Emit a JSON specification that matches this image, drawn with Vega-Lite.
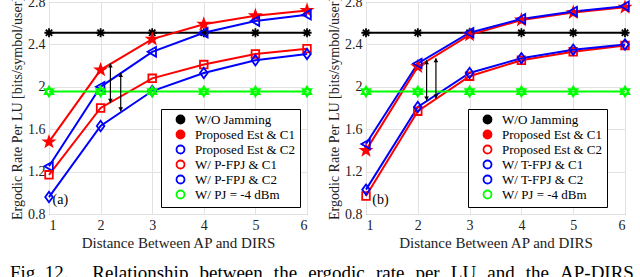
{
  "$schema": "https://vega.github.io/schema/vega-lite/v6.json",
  "padding": {"left": 10, "top": -6, "right": 5, "bottom": 5},
  "datasets": {
    "curves": [
      {"p":"a","s":"W/O Jamming","x":1,"y":2.51},{"p":"a","s":"W/O Jamming","x":2,"y":2.51},{"p":"a","s":"W/O Jamming","x":3,"y":2.51},{"p":"a","s":"W/O Jamming","x":4,"y":2.51},{"p":"a","s":"W/O Jamming","x":5,"y":2.51},{"p":"a","s":"W/O Jamming","x":6,"y":2.51},
      {"p":"a","s":"Proposed Est & C1","x":1,"y":1.48},{"p":"a","s":"Proposed Est & C1","x":2,"y":2.16},{"p":"a","s":"Proposed Est & C1","x":3,"y":2.45},{"p":"a","s":"Proposed Est & C1","x":4,"y":2.59},{"p":"a","s":"Proposed Est & C1","x":5,"y":2.67},{"p":"a","s":"Proposed Est & C1","x":6,"y":2.72},
      {"p":"a","s":"Proposed Est & C2","x":1,"y":1.25},{"p":"a","s":"Proposed Est & C2","x":2,"y":2.0},{"p":"a","s":"Proposed Est & C2","x":3,"y":2.33},{"p":"a","s":"Proposed Est & C2","x":4,"y":2.51},{"p":"a","s":"Proposed Est & C2","x":5,"y":2.62},{"p":"a","s":"Proposed Est & C2","x":6,"y":2.68},
      {"p":"a","s":"W/ P-FPJ & C1","x":1,"y":1.17},{"p":"a","s":"W/ P-FPJ & C1","x":2,"y":1.8},{"p":"a","s":"W/ P-FPJ & C1","x":3,"y":2.08},{"p":"a","s":"W/ P-FPJ & C1","x":4,"y":2.21},{"p":"a","s":"W/ P-FPJ & C1","x":5,"y":2.31},{"p":"a","s":"W/ P-FPJ & C1","x":6,"y":2.36},
      {"p":"a","s":"W/ P-FPJ & C2","x":1,"y":0.96},{"p":"a","s":"W/ P-FPJ & C2","x":2,"y":1.63},{"p":"a","s":"W/ P-FPJ & C2","x":3,"y":1.96},{"p":"a","s":"W/ P-FPJ & C2","x":4,"y":2.13},{"p":"a","s":"W/ P-FPJ & C2","x":5,"y":2.25},{"p":"a","s":"W/ P-FPJ & C2","x":6,"y":2.31},
      {"p":"a","s":"W/ PJ = -4 dBm","x":1,"y":1.955},{"p":"a","s":"W/ PJ = -4 dBm","x":2,"y":1.955},{"p":"a","s":"W/ PJ = -4 dBm","x":3,"y":1.955},{"p":"a","s":"W/ PJ = -4 dBm","x":4,"y":1.955},{"p":"a","s":"W/ PJ = -4 dBm","x":5,"y":1.955},{"p":"a","s":"W/ PJ = -4 dBm","x":6,"y":1.955},
      {"p":"b","s":"W/O Jamming","x":1,"y":2.51},{"p":"b","s":"W/O Jamming","x":2,"y":2.51},{"p":"b","s":"W/O Jamming","x":3,"y":2.51},{"p":"b","s":"W/O Jamming","x":4,"y":2.51},{"p":"b","s":"W/O Jamming","x":5,"y":2.51},{"p":"b","s":"W/O Jamming","x":6,"y":2.51},
      {"p":"b","s":"Proposed Est & C1","x":1,"y":1.4},{"p":"b","s":"Proposed Est & C1","x":2,"y":2.19},{"p":"b","s":"Proposed Est & C1","x":3,"y":2.49},{"p":"b","s":"Proposed Est & C1","x":4,"y":2.63},{"p":"b","s":"Proposed Est & C1","x":5,"y":2.7},{"p":"b","s":"Proposed Est & C1","x":6,"y":2.75},
      {"p":"b","s":"Proposed Est & C2","x":1,"y":0.97},{"p":"b","s":"Proposed Est & C2","x":2,"y":1.77},{"p":"b","s":"Proposed Est & C2","x":3,"y":2.1},{"p":"b","s":"Proposed Est & C2","x":4,"y":2.25},{"p":"b","s":"Proposed Est & C2","x":5,"y":2.33},{"p":"b","s":"Proposed Est & C2","x":6,"y":2.39},
      {"p":"b","s":"W/ T-FPJ & C1","x":1,"y":1.46},{"p":"b","s":"W/ T-FPJ & C1","x":2,"y":2.22},{"p":"b","s":"W/ T-FPJ & C1","x":3,"y":2.51},{"p":"b","s":"W/ T-FPJ & C1","x":4,"y":2.64},{"p":"b","s":"W/ T-FPJ & C1","x":5,"y":2.71},{"p":"b","s":"W/ T-FPJ & C1","x":6,"y":2.76},
      {"p":"b","s":"W/ T-FPJ & C2","x":1,"y":1.03},{"p":"b","s":"W/ T-FPJ & C2","x":2,"y":1.81},{"p":"b","s":"W/ T-FPJ & C2","x":3,"y":2.13},{"p":"b","s":"W/ T-FPJ & C2","x":4,"y":2.27},{"p":"b","s":"W/ T-FPJ & C2","x":5,"y":2.35},{"p":"b","s":"W/ T-FPJ & C2","x":6,"y":2.4},
      {"p":"b","s":"W/ PJ = -4 dBm","x":1,"y":1.955},{"p":"b","s":"W/ PJ = -4 dBm","x":2,"y":1.955},{"p":"b","s":"W/ PJ = -4 dBm","x":3,"y":1.955},{"p":"b","s":"W/ PJ = -4 dBm","x":4,"y":1.955},{"p":"b","s":"W/ PJ = -4 dBm","x":5,"y":1.955},{"p":"b","s":"W/ PJ = -4 dBm","x":6,"y":1.955}
    ],
    "arrows": [
      {"p":"a","x":2.19,"lo":1.85,"hi":2.22},
      {"p":"a","x":2.39,"lo":1.77,"hi":2.13},
      {"p":"b","x":2.17,"lo":1.87,"hi":2.25},
      {"p":"b","x":2.35,"lo":1.89,"hi":2.27}
    ],
    "tags": [
      {"p":"a","x":1.07,"y":0.93,"t":"(a)"},
      {"p":"b","x":1.12,"y":0.93,"t":"(b)"}
    ]
  },
  "title": {
    "text": "Fig. 12.\u2003 Relationship \u2004between \u2004the \u2004ergodic \u2004rate \u2004per \u2004LU \u2004and \u2004the \u2004AP-DIRS",
    "orient": "bottom", "anchor": "start", "frame": "bounds",
    "font": "Liberation Serif", "fontSize": 19, "fontWeight": "normal", "color": "#000", "offset": 13
  },
  "spacing": 10,
  "resolve": {
    "scale": {"color": "independent", "stroke": "independent", "fill": "independent", "shape": "independent"},
    "legend": {"color": "independent", "stroke": "independent", "fill": "independent", "shape": "independent"}
  },
  "hconcat": [
    {
      "width": 258, "height": 212,
      "layer": [
        {
          "data": {"name": "curves"},
          "transform": [{"filter": "datum.p == 'a'"}],
          "mark": {"type": "line", "strokeWidth": 2},
          "encoding": {
            "x": {"field": "x", "type": "quantitative", "scale": {"domain": [1, 6], "nice": false, "zero": false}, "axis": {"values": [1,2,3,4,5,6], "format": "d", "title": "Distance Between AP and DIRS", "titleFontSize": 15}},
            "y": {"field": "y", "type": "quantitative", "scale": {"domain": [0.8, 2.8], "nice": false, "zero": false}, "axis": {"values": [0.8,1.2,1.6,2,2.4,2.8], "format": ".2~f", "title": "Ergodic Rate Per LU [bits/symbol/user]", "titleFontSize": 14}},
            "color": {"field": "s", "type": "nominal", "scale": {"domain": ["W/ PJ = -4 dBm","W/ P-FPJ & C2","W/ P-FPJ & C1","Proposed Est & C2","Proposed Est & C1","W/O Jamming"], "range": ["#00ff00","#0000ff","#ff0000","#0000ff","#ff0000","#000000"]}, "legend": null}
          }
        },
        {
          "data": {"name": "curves"},
          "transform": [{"filter": "datum.p == 'a'"}],
          "mark": {"type": "point", "size": 64, "strokeWidth": 1.8, "opacity": 1},
          "encoding": {
            "x": {"field": "x", "type": "quantitative"},
            "y": {"field": "y", "type": "quantitative"},
            "shape": {"field": "s", "type": "nominal", "scale": {"domain": ["W/ PJ = -4 dBm","W/ P-FPJ & C2","W/ P-FPJ & C1","Proposed Est & C2","Proposed Est & C1","W/O Jamming"], "range": [
              "M0,-1.25L1.08,0.625L-1.08,0.625ZM0,1.25L-1.08,-0.625L1.08,-0.625Z",
              "M0,-1.3L0.95,0L0,1.3L-0.95,0Z",
              "M-0.95,-0.95L0.95,-0.95L0.95,0.95L-0.95,0.95Z",
              "M-1.15,0L0.95,-1.2L0.95,1.2Z",
              "M0,-1.3L0.306,-0.421L1.236,-0.402L0.495,0.161L0.764,1.052L0,0.52L-0.764,1.052L-0.495,0.161L-1.236,-0.402L-0.306,-0.421Z",
              "M-1.15,0L1.15,0M0,-1.15L0,1.15M-0.8,-0.8L0.8,0.8M-0.8,0.8L0.8,-0.8"]}, "legend": null},
            "stroke": {"field": "s", "type": "nominal", "scale": {"domain": ["W/O Jamming","Proposed Est & C1","Proposed Est & C2","W/ P-FPJ & C1","W/ P-FPJ & C2","W/ PJ = -4 dBm"], "range": ["#000000","#ff0000","#0000ff","#ff0000","#0000ff","#00ff00"]},
              "legend": {
                "title": null, "orient": "none", "legendX": 112, "legendY": 107,
                "padding": 4, "strokeColor": "#000", "fillColor": "#fff",
                "labelFont": "Liberation Serif", "labelFontSize": 13, "labelColor": "#000",
                "symbolSize": 64, "symbolStrokeWidth": 1.8, "symbolOffset": 9, "labelOffset": 8, "rowPadding": -3.8,
                "encode": {"symbols": {
                  "shape": {"value": {"signal": "['M-3.25,0L3.25,0M-1.15,0L1.15,0M0,-1.15L0,1.15M-0.8,-0.8L0.8,0.8M-0.8,0.8L0.8,-0.8','M-3.25,0L3.25,0M0,-1.3L0.306,-0.421L1.236,-0.402L0.495,0.161L0.764,1.052L0,0.52L-0.764,1.052L-0.495,0.161L-1.236,-0.402L-0.306,-0.421Z','M-3.25,0L3.25,0M-1.15,0L0.95,-1.2L0.95,1.2Z','M-3.25,0L3.25,0M-0.95,-0.95L0.95,-0.95L0.95,0.95L-0.95,0.95Z','M-3.25,0L3.25,0M0,-1.3L0.95,0L0,1.3L-0.95,0Z','M-3.25,0L3.25,0M0,-1.25L1.08,0.625L-1.08,0.625ZM0,1.25L-1.08,-0.625L1.08,-0.625Z'][indexof(['W/O Jamming','Proposed Est & C1','Proposed Est & C2','W/ P-FPJ & C1','W/ P-FPJ & C2','W/ PJ = -4 dBm'], datum.value)]"}}
                }}
              }},
            "fill": {"field": "s", "type": "nominal", "scale": {"domain": ["W/O Jamming","Proposed Est & C1","Proposed Est & C2","W/ P-FPJ & C1","W/ P-FPJ & C2","W/ PJ = -4 dBm"], "range": ["#000000","#ff0000","transparent","transparent","transparent","transparent"]},
              "legend": {
                "title": null, "orient": "none", "legendX": 112, "legendY": 107,
                "padding": 4, "strokeColor": "#000", "fillColor": "#fff",
                "labelFont": "Liberation Serif", "labelFontSize": 13, "labelColor": "#000",
                "symbolSize": 64, "symbolStrokeWidth": 1.8, "symbolOffset": 9, "labelOffset": 8, "rowPadding": -3.8,
                "encode": {"symbols": {
                  "shape": {"value": {"signal": "['M-3.25,0L3.25,0M-1.15,0L1.15,0M0,-1.15L0,1.15M-0.8,-0.8L0.8,0.8M-0.8,0.8L0.8,-0.8','M-3.25,0L3.25,0M0,-1.3L0.306,-0.421L1.236,-0.402L0.495,0.161L0.764,1.052L0,0.52L-0.764,1.052L-0.495,0.161L-1.236,-0.402L-0.306,-0.421Z','M-3.25,0L3.25,0M-1.15,0L0.95,-1.2L0.95,1.2Z','M-3.25,0L3.25,0M-0.95,-0.95L0.95,-0.95L0.95,0.95L-0.95,0.95Z','M-3.25,0L3.25,0M0,-1.3L0.95,0L0,1.3L-0.95,0Z','M-3.25,0L3.25,0M0,-1.25L1.08,0.625L-1.08,0.625ZM0,1.25L-1.08,-0.625L1.08,-0.625Z'][indexof(['W/O Jamming','Proposed Est & C1','Proposed Est & C2','W/ P-FPJ & C1','W/ P-FPJ & C2','W/ PJ = -4 dBm'], datum.value)]"}}
                }}
              }}
          }
        },
        {
          "data": {"name": "arrows"},
          "transform": [{"filter": "datum.p == 'a'"}],
          "mark": {"type": "rule", "color": "#000", "strokeWidth": 1.2},
          "encoding": {"x": {"field": "x", "type": "quantitative"}, "y": {"field": "lo", "type": "quantitative"}, "y2": {"field": "hi"}}
        },
        {
          "data": {"name": "arrows"},
          "transform": [{"filter": "datum.p == 'a'"}],
          "mark": {"type": "point", "shape": "triangle-up", "filled": true, "color": "#000", "size": 22, "opacity": 1, "yOffset": 2},
          "encoding": {"x": {"field": "x", "type": "quantitative"}, "y": {"field": "hi", "type": "quantitative"}}
        },
        {
          "data": {"name": "arrows"},
          "transform": [{"filter": "datum.p == 'a'"}],
          "mark": {"type": "point", "shape": "triangle-down", "filled": true, "color": "#000", "size": 22, "opacity": 1, "yOffset": -2},
          "encoding": {"x": {"field": "x", "type": "quantitative"}, "y": {"field": "lo", "type": "quantitative"}}
        },
        {
          "data": {"name": "tags"},
          "transform": [{"filter": "datum.p == 'a'"}],
          "mark": {"type": "text", "align": "left", "baseline": "middle", "font": "Liberation Serif", "fontSize": 14, "color": "#000"},
          "encoding": {"x": {"field": "x", "type": "quantitative"}, "y": {"field": "y", "type": "quantitative"}, "text": {"field": "t"}}
        }
      ]
    },
    {
      "width": 259, "height": 212,
      "layer": [
        {
          "data": {"name": "curves"},
          "transform": [{"filter": "datum.p == 'b'"}],
          "mark": {"type": "line", "strokeWidth": 2},
          "encoding": {
            "x": {"field": "x", "type": "quantitative", "scale": {"domain": [1, 6], "nice": false, "zero": false}, "axis": {"values": [1,2,3,4,5,6], "format": "d", "title": "Distance Between AP and DIRS", "titleFontSize": 15}},
            "y": {"field": "y", "type": "quantitative", "scale": {"domain": [0.8, 2.8], "nice": false, "zero": false}, "axis": {"values": [0.8,1.2,1.6,2,2.4,2.8], "format": ".2~f", "title": "Ergodic Rate Per LU [bits/symbol/user]", "titleFontSize": 14}},
            "color": {"field": "s", "type": "nominal", "scale": {"domain": ["W/ PJ = -4 dBm","W/ T-FPJ & C2","W/ T-FPJ & C1","Proposed Est & C2","Proposed Est & C1","W/O Jamming"], "range": ["#00ff00","#0000ff","#0000ff","#ff0000","#ff0000","#000000"]}, "legend": null}
          }
        },
        {
          "data": {"name": "curves"},
          "transform": [{"filter": "datum.p == 'b'"}],
          "mark": {"type": "point", "size": 64, "strokeWidth": 1.8, "opacity": 1},
          "encoding": {
            "x": {"field": "x", "type": "quantitative"},
            "y": {"field": "y", "type": "quantitative"},
            "shape": {"field": "s", "type": "nominal", "scale": {"domain": ["W/ PJ = -4 dBm","W/ T-FPJ & C2","W/ T-FPJ & C1","Proposed Est & C2","Proposed Est & C1","W/O Jamming"], "range": [
              "M0,-1.25L1.08,0.625L-1.08,0.625ZM0,1.25L-1.08,-0.625L1.08,-0.625Z",
              "M0,-1.3L0.95,0L0,1.3L-0.95,0Z",
              "M-1.15,0L0.95,-1.2L0.95,1.2Z",
              "M-0.95,-0.95L0.95,-0.95L0.95,0.95L-0.95,0.95Z",
              "M0,-1.3L0.306,-0.421L1.236,-0.402L0.495,0.161L0.764,1.052L0,0.52L-0.764,1.052L-0.495,0.161L-1.236,-0.402L-0.306,-0.421Z",
              "M-1.15,0L1.15,0M0,-1.15L0,1.15M-0.8,-0.8L0.8,0.8M-0.8,0.8L0.8,-0.8"]}, "legend": null},
            "stroke": {"field": "s", "type": "nominal", "scale": {"domain": ["W/O Jamming","Proposed Est & C1","Proposed Est & C2","W/ T-FPJ & C1","W/ T-FPJ & C2","W/ PJ = -4 dBm"], "range": ["#000000","#ff0000","#ff0000","#0000ff","#0000ff","#00ff00"]},
              "legend": {
                "title": null, "orient": "none", "legendX": 102, "legendY": 107,
                "padding": 4, "strokeColor": "#000", "fillColor": "#fff",
                "labelFont": "Liberation Serif", "labelFontSize": 13, "labelColor": "#000",
                "symbolSize": 64, "symbolStrokeWidth": 1.8, "symbolOffset": 9, "labelOffset": 8, "rowPadding": -3.8,
                "encode": {"symbols": {
                  "shape": {"value": {"signal": "['M-3.25,0L3.25,0M-1.15,0L1.15,0M0,-1.15L0,1.15M-0.8,-0.8L0.8,0.8M-0.8,0.8L0.8,-0.8','M-3.25,0L3.25,0M0,-1.3L0.306,-0.421L1.236,-0.402L0.495,0.161L0.764,1.052L0,0.52L-0.764,1.052L-0.495,0.161L-1.236,-0.402L-0.306,-0.421Z','M-3.25,0L3.25,0M-0.95,-0.95L0.95,-0.95L0.95,0.95L-0.95,0.95Z','M-3.25,0L3.25,0M-1.15,0L0.95,-1.2L0.95,1.2Z','M-3.25,0L3.25,0M0,-1.3L0.95,0L0,1.3L-0.95,0Z','M-3.25,0L3.25,0M0,-1.25L1.08,0.625L-1.08,0.625ZM0,1.25L-1.08,-0.625L1.08,-0.625Z'][indexof(['W/O Jamming','Proposed Est & C1','Proposed Est & C2','W/ T-FPJ & C1','W/ T-FPJ & C2','W/ PJ = -4 dBm'], datum.value)]"}}
                }}
              }},
            "fill": {"field": "s", "type": "nominal", "scale": {"domain": ["W/O Jamming","Proposed Est & C1","Proposed Est & C2","W/ T-FPJ & C1","W/ T-FPJ & C2","W/ PJ = -4 dBm"], "range": ["#000000","#ff0000","transparent","transparent","transparent","transparent"]},
              "legend": {
                "title": null, "orient": "none", "legendX": 102, "legendY": 107,
                "padding": 4, "strokeColor": "#000", "fillColor": "#fff",
                "labelFont": "Liberation Serif", "labelFontSize": 13, "labelColor": "#000",
                "symbolSize": 64, "symbolStrokeWidth": 1.8, "symbolOffset": 9, "labelOffset": 8, "rowPadding": -3.8,
                "encode": {"symbols": {
                  "shape": {"value": {"signal": "['M-3.25,0L3.25,0M-1.15,0L1.15,0M0,-1.15L0,1.15M-0.8,-0.8L0.8,0.8M-0.8,0.8L0.8,-0.8','M-3.25,0L3.25,0M0,-1.3L0.306,-0.421L1.236,-0.402L0.495,0.161L0.764,1.052L0,0.52L-0.764,1.052L-0.495,0.161L-1.236,-0.402L-0.306,-0.421Z','M-3.25,0L3.25,0M-0.95,-0.95L0.95,-0.95L0.95,0.95L-0.95,0.95Z','M-3.25,0L3.25,0M-1.15,0L0.95,-1.2L0.95,1.2Z','M-3.25,0L3.25,0M0,-1.3L0.95,0L0,1.3L-0.95,0Z','M-3.25,0L3.25,0M0,-1.25L1.08,0.625L-1.08,0.625ZM0,1.25L-1.08,-0.625L1.08,-0.625Z'][indexof(['W/O Jamming','Proposed Est & C1','Proposed Est & C2','W/ T-FPJ & C1','W/ T-FPJ & C2','W/ PJ = -4 dBm'], datum.value)]"}}
                }}
              }}
          }
        },
        {
          "data": {"name": "arrows"},
          "transform": [{"filter": "datum.p == 'b'"}],
          "mark": {"type": "rule", "color": "#000", "strokeWidth": 1.2},
          "encoding": {"x": {"field": "x", "type": "quantitative"}, "y": {"field": "lo", "type": "quantitative"}, "y2": {"field": "hi"}}
        },
        {
          "data": {"name": "arrows"},
          "transform": [{"filter": "datum.p == 'b'"}],
          "mark": {"type": "point", "shape": "triangle-up", "filled": true, "color": "#000", "size": 22, "opacity": 1, "yOffset": 2},
          "encoding": {"x": {"field": "x", "type": "quantitative"}, "y": {"field": "hi", "type": "quantitative"}}
        },
        {
          "data": {"name": "arrows"},
          "transform": [{"filter": "datum.p == 'b'"}],
          "mark": {"type": "point", "shape": "triangle-down", "filled": true, "color": "#000", "size": 22, "opacity": 1, "yOffset": -2},
          "encoding": {"x": {"field": "x", "type": "quantitative"}, "y": {"field": "lo", "type": "quantitative"}}
        },
        {
          "data": {"name": "tags"},
          "transform": [{"filter": "datum.p == 'b'"}],
          "mark": {"type": "text", "align": "left", "baseline": "middle", "font": "Liberation Serif", "fontSize": 14, "color": "#000"},
          "encoding": {"x": {"field": "x", "type": "quantitative"}, "y": {"field": "y", "type": "quantitative"}, "text": {"field": "t"}}
        }
      ]
    }
  ],
  "config": {
    "font": "Liberation Serif",
    "background": "#ffffff",
    "view": {"stroke": "#666666", "strokeWidth": 1},
    "legend": {"labelFont": "Liberation Serif", "labelFontSize": 13},
    "axis": {
      "labelFont": "Liberation Serif", "labelFontSize": 14, "labelColor": "#222",
      "titleFont": "Liberation Serif", "titleFontSize": 14, "titleFontWeight": "normal", "titleColor": "#222",
      "gridColor": "#e2e2e2", "gridWidth": 1, "domain": false, "ticks": false, "labelPadding": 4, "titlePadding": 3
    }
  }
}
